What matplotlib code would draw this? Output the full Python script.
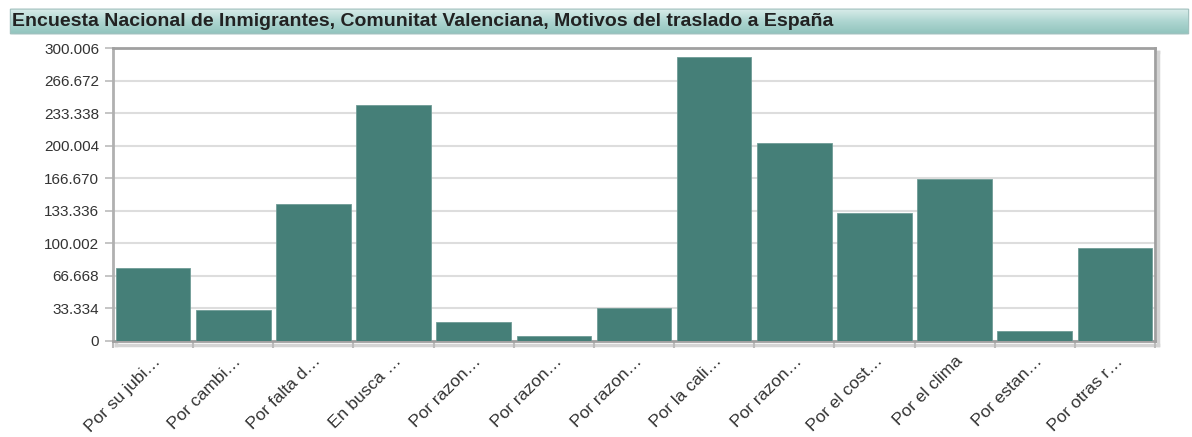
import numpy as np
import matplotlib
matplotlib.use('Agg')
import matplotlib.pyplot as plt
from matplotlib.patches import FancyBboxPatch
from matplotlib.colors import LinearSegmentedColormap

plt.rcParams['font.family'] = ['Liberation Sans', 'DejaVu Sans']

# data
categories = ['Por su jubi…', 'Por cambi…', 'Por falta d…', 'En busca …',
              'Por razon…', 'Por razon…', 'Por razon…', 'Por la cali…',
              'Por razon…', 'Por el cost…', 'Por el clima', 'Por estan…',
              'Por otras r…']
values = [75, 31.7, 140.3, 241.6, 19.5, 5, 33.8, 290.8, 202.7, 131, 165.9, 10.2, 95.2]
yticks = [0, 33.334, 66.668, 100.002, 133.336, 166.670, 200.004,
          233.338, 266.672, 300.006]
title = 'Encuesta Nacional de Inmigrantes, Comunitat Valenciana, Motivos del traslado a España'

W, H = 1192, 437
fig = plt.figure(figsize=(W / 100, H / 100), dpi=100)

# title bar with teal gradient
tb = fig.add_axes([8 / W, 1 - 35 / H, 1183 / W, 27 / H])
tb.set_axis_off()
grad = np.linspace(0, 1, 100).reshape(-1, 1)
cmap = LinearSegmentedColormap.from_list('tb', ['#dceeec', '#add5d0', '#8fc2bc'])
im = tb.imshow(grad, aspect='auto', cmap=cmap, extent=[0, 1, 0, 1], origin='upper')
tb.set_xlim(0, 1)
tb.set_ylim(0, 1)
clip = FancyBboxPatch((0.002, 0.04), 0.996, 0.92, boxstyle='round,pad=0,rounding_size=0.004',
                      transform=tb.transAxes, facecolor='none', edgecolor='#9fbfbc', lw=0.8)
tb.add_patch(clip)
im.set_clip_path(clip)
tb.text(0.003, 0.5, title, fontsize=14, fontweight='bold', color='#222222',
        va='center', ha='left', transform=tb.transAxes)

# main axes
ax = fig.add_axes([113 / W, 1 - 341 / H, (1155 - 113) / W, (341 - 48) / H])
x = np.arange(len(categories))
ax.bar(x, values, width=0.93, color='#457f78', edgecolor='#6f9c96', linewidth=0.6, zorder=3)
ax.set_xlim(-0.5, len(categories) - 0.5)
ax.set_ylim(0, yticks[-1])
ax.set_yticks(yticks)
ax.set_yticklabels(['0'] + [f'{v:.3f}' for v in yticks[1:]])
ax.yaxis.grid(True, color='#dddddd', linewidth=1.5, zorder=0)
ax.set_axisbelow(True)

ax.set_xticks(np.arange(len(categories) + 1) - 0.5)
ax.set_xticklabels([])
ax.set_xticks(x, minor=True)
ax.set_xticklabels(categories, minor=True, rotation=45, ha='right',
                   rotation_mode='anchor', fontsize=12.5, color='#333333')
ax.tick_params(axis='x', which='minor', length=0, pad=9)
ax.tick_params(axis='x', which='major', length=5, color='#bbbbbb', width=1.5)
ax.tick_params(axis='y', length=6, color='#bbbbbb', width=1.2, labelsize=11,
               labelcolor='#333333', pad=4)

for s in ax.spines.values():
    s.set_color('#a0a0a0')
    s.set_linewidth(2)
ax.spines['left'].set_color('#b0b0b0')

# drop shadow along right and bottom of the frame
sh = fig.add_axes([116 / W, 1 - 345 / H, (1155 - 113) / W, (341 - 48) / H], zorder=-1)
sh.set_xticks([])
sh.set_yticks([])
sh.patch.set_alpha(0)
for s in sh.spines.values():
    s.set_color('#d4d4d4')
    s.set_linewidth(2.5)

fig.savefig('out.png', dpi=100)
